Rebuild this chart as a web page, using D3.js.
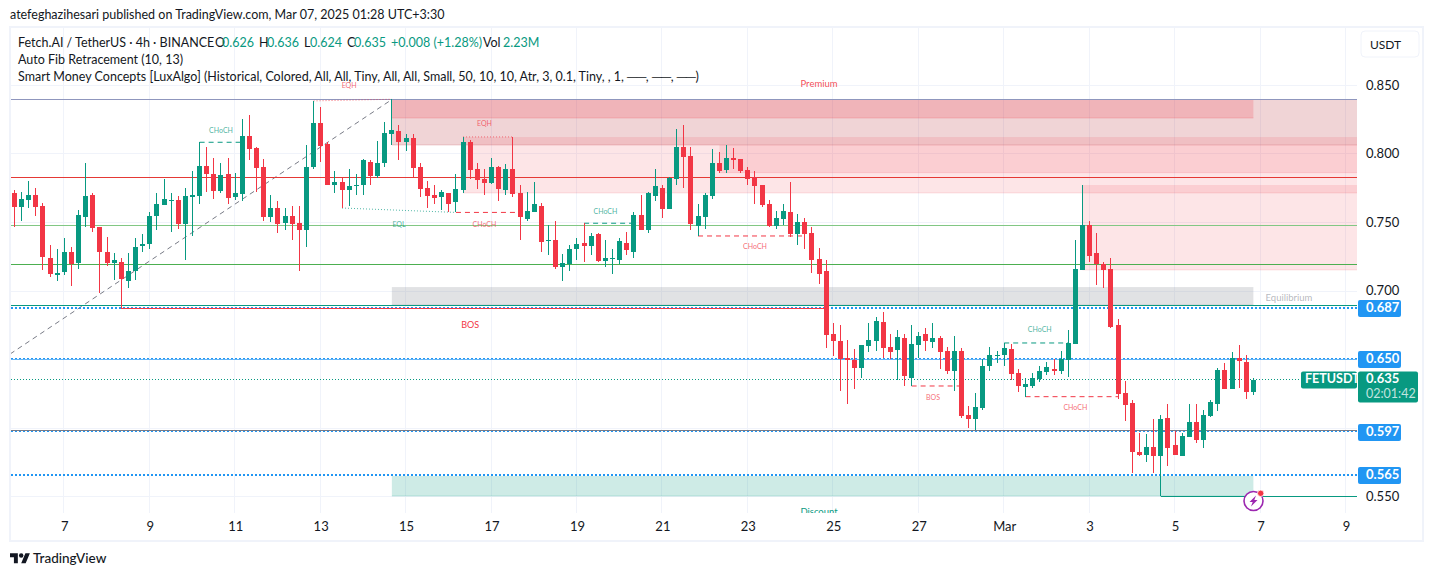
<!DOCTYPE html>
<html><head><meta charset="utf-8">
<script src="https://cdn.jsdelivr.net/npm/d3@7/dist/d3.min.js"></script>
<style>
html,body{margin:0;padding:0;background:#fff;overflow:hidden}
svg{display:block}
text{font-family:Lato,"Noto Sans",sans-serif;fill:#131722}
</style></head><body><svg id="c" width="1433" height="576"></svg>
<script>
const opens=[.7712,.7610,.7661,.7697,.7617,.7238,.7114,.7136,.7282,.7201,.7537,.7697,.7464,.7282,.7201,.7208,.7070,.7143,.7325,.7340,.7544,.7624,.7654,.7661,.7486,.7683,.7690,.7909,.7851,.7726,.7851,.7683,.7705,.8128,.8040,.7902,.7537,.7602,.7493,.7544,.7493,.7442,.7902,.8223,.8070,.7771,.7793,.7734,.7763,.7771,.7939,.7836,.7931,.8143,.8165,.8085,.8114,.7902,.7749,.7697,.7683,.7712,.7647,.7734,.8085,.7888,.7814,.7785,.7902,.7734,.7888,.7712,.7522,.7573,.7617,.7362,.7369,.7172,.7191,.7303,.7347,.7325,.7413,.7216,.7231,.7223,.7347,.7282,.7551,.7442,.7690,.7749,.7595,.7814,.8048,.7982,.7471,.7537,.7691,.7931,.7880,.7967,.7960,.7880,.7829,.7770,.7632,.7471,.7522,.7573,.7413,.7500,.7420,.7230,.7143,.6683,.6632,.6507,.6493,.6434,.6595,.6632,.6770,.6588,.6566,.6654,.6361,.6602,.6683,.6624,.6654,.6558,.6413,.6558,.6091,.6062,.6143,.6449,.6522,.6529,.6573,.6398,.6296,.6303,.6354,.6405,.6427,.6413,.6493,.6610,.7150,.7478,.7274,.7194,.7157,.6748,.6252,.6179,.5821,.5799,.5858,.5792,.6070,.5873,.5792,.5931,.6040,.5909,.6084,.6172,.6420,.6281,.6507,.6478,.626];
const highs=[.7734,.7719,.7800,.7749,.7639,.7333,.7303,.7384,.7318,.7588,.7931,.7712,.7464,.7391,.7274,.7238,.7274,.7384,.7413,.7573,.7712,.7814,.7712,.7690,.7749,.7873,.8082,.8048,.7968,.7931,.7968,.7858,.8252,.8281,.8048,.7960,.7697,.7654,.7602,.7617,.7617,.8062,.8384,.8340,.8085,.7873,.7822,.7888,.7851,.7960,.7953,.8092,.8230,.8396,.8208,.8143,.8143,.7931,.7800,.7771,.7734,.7712,.7851,.8121,.8099,.7931,.7888,.7968,.7909,.7924,.8121,.7771,.7719,.7793,.7639,.7479,.7508,.7267,.7333,.7384,.7491,.7420,.7420,.7369,.7303,.7384,.7427,.7573,.7697,.7719,.7888,.7771,.7829,.8179,.8208,.8048,.7632,.7712,.8033,.8011,.8062,.8041,.7960,.7902,.7873,.7770,.7661,.7581,.7632,.7792,.7559,.7530,.7464,.7310,.7223,.6763,.6748,.6639,.6573,.6602,.6763,.6807,.6843,.6683,.6712,.6683,.6748,.6697,.6727,.6763,.6668,.6588,.6668,.6580,.6157,.6252,.6500,.6588,.6558,.6617,.6610,.6427,.6361,.6398,.6449,.6478,.6500,.6558,.6712,.7369,.7770,.7507,.7420,.7208,.7237,.6792,.6340,.6201,.5960,.5953,.6062,.6091,.6172,.5975,.5960,.6172,.6172,.6128,.6201,.6434,.6471,.6551,.6602,.6529,.636];
const lows=[.7464,.7508,.7602,.7544,.7150,.7099,.7070,.7114,.7033,.7157,.7464,.7427,.6982,.7180,.7077,.6868,.7019,.7077,.7282,.7303,.7442,.7624,.7427,.7449,.7223,.7398,.7632,.7719,.7668,.7712,.7632,.7661,.7654,.7953,.7719,.7508,.7500,.7420,.7442,.7369,.7143,.7318,.7888,.7939,.7771,.7712,.7602,.7617,.7697,.7697,.7771,.7822,.7902,.8062,.7953,.8019,.7827,.7683,.7602,.7632,.7588,.7573,.7570,.7712,.7814,.7741,.7697,.7778,.7654,.7697,.7683,.7369,.7508,.7573,.7282,.7260,.7157,.7070,.7143,.7223,.7208,.7260,.7208,.7172,.7121,.7194,.7260,.7238,.7442,.7420,.7654,.7530,.7595,.7770,.7749,.7442,.7398,.7449,.7668,.7858,.7858,.7887,.7858,.7770,.7632,.7610,.7464,.7449,.7478,.7391,.7332,.7303,.7128,.7048,.6580,.6522,.6267,.6172,.6281,.6361,.6551,.6558,.6507,.6500,.6347,.6303,.6303,.6507,.6558,.6580,.6427,.6391,.6267,.6070,.5996,.5982,.6128,.6413,.6471,.6449,.6347,.6259,.6225,.6289,.6332,.6383,.6383,.6391,.6369,.6610,.7150,.7208,.7040,.7018,.6726,.6209,.6048,.5668,.5792,.5748,.5668,.5500,.5719,.5799,.5792,.5931,.5887,.5851,.6077,.6120,.6281,.6281,.6288,.6208,.624];
const closes=[.7609,.7668,.7697,.7610,.7245,.7121,.7128,.7282,.7194,.7551,.7690,.7457,.7282,.7201,.7223,.7084,.7143,.7318,.7340,.7544,.7632,.7668,.7661,.7486,.7690,.7697,.7909,.7851,.7726,.7843,.7675,.7712,.8128,.8033,.7895,.7537,.7602,.7486,.7544,.7486,.7442,.7902,.8223,.8055,.7771,.7793,.7734,.7763,.7771,.7953,.7836,.7931,.8150,.8172,.8085,.8114,.7895,.7741,.7690,.7675,.7719,.7632,.7741,.8085,.7880,.7807,.7785,.7902,.7741,.7888,.7705,.7537,.7580,.7632,.7354,.7369,.7172,.7201,.7303,.7340,.7325,.7398,.7213,.7238,.7238,.7362,.7296,.7551,.7442,.7712,.7763,.7595,.7822,.8048,.7975,.7486,.7544,.7698,.7931,.7873,.7967,.7953,.7873,.7814,.7763,.7625,.7471,.7530,.7581,.7413,.7500,.7413,.7223,.7121,.6675,.6632,.6500,.6493,.6434,.6602,.6639,.6778,.6580,.6551,.6661,.6376,.6610,.6668,.6631,.6654,.6551,.6413,.6558,.6084,.6062,.6150,.6449,.6529,.6529,.6580,.6391,.6303,.6318,.6361,.6413,.6442,.6413,.6500,.6617,.7157,.7478,.7252,.7194,.7150,.6734,.6245,.6164,.5821,.5799,.5858,.5792,.6062,.5851,.5799,.5938,.6040,.5909,.6091,.6186,.6420,.6281,.6507,.6485,.6259,.635];

const priceTicks=[.85,.8,.75,.7,.55];
const dateTicks=[7,19,31,43,55,67,79,91,103,115,127,139,151,163,175,187];
const dateLabels=["7","9","11","13","15","17","19","21","23","25","27","Mar","3","5","7","9"];
const gridPrices=[.85,.8,.75,.7,.65,.6,.55];
const badgeLevels=[.687,.65,.597,.565];
const dottedLevels=[.6872,.6500,.5974,.5653];
const fibPrices=[.8394,.7826,.7475,.7190,.6894,.6496,.5978];
const fibColors=["#8f96bd","#e53935","#81c784","#4caf50","#089981","#64b5f6","#787b86"];
const zoneFrom=[53,53,63,99,150,53,53];
const zoneTo=[null,174,null,null,null,174,174];
const zoneTop=[.8394,.8394,.8120,.8062,.7770,.7025,.5646];
const zoneBottom=[.8062,.8259,.7712,.7860,.7150,.6894,.55];
const zoneFill=["rgba(178,40,51,.2)","rgba(242,54,69,.2)","rgba(242,54,69,.13)","rgba(242,54,69,.13)","rgba(242,54,69,.13)","rgba(135,139,148,.25)","rgba(8,153,129,.2)"];
const structText=["CHoCH","EQH","EQL","EQH","CHoCH","CHoCH","CHoCH","BOS","CHoCH","CHoCH"];
const structFrom=[26,42,46,63,62,80,96,126,139,142];
const structTo=[32,53,62,70,71,87,111,133,148,155];
const structP0=[.8082,.8384,.7602,.8121,.7570,.7491,.7398,.6303,.6617,.6225];
const structP1=[.8082,.8396,.7570,.8121,.7570,.7491,.7398,.6303,.6617,.6225];
const structLabelBar=[29,47,54,66,66,83,104,129,144,149];
const structLabelP=[.8164,.8493,.7478,.8215,.7478,.7573,.7318,.6215,.6712,.6142];
const structUp=[1,0,1,0,0,1,0,0,1,0];

const up="#089981",down="#f23645";
const svg=d3.select("#c");
const x=d3.scaleLinear().domain([0,187]).range([14.5,14.5+187*7.12]);
const y=d3.scaleLinear().domain([.85,.55]).range([85,496]);
const crisp=p=>Math.floor(y(p))+.5;
const L=11,R=1357,T=28,B=513;

svg.append("rect").attr("x",10).attr("y",27).attr("width",1413).attr("height",514).attr("fill","#fff").attr("stroke","#f0f3fa").attr("stroke-width",2);

const defs=svg.append("defs");
defs.append("clipPath").attr("id","pane").append("rect").attr("x",L).attr("y",T).attr("width",R-L).attr("height",B-T);
const pane=svg.append("g").attr("clip-path","url(#pane)");

pane.selectAll(".gv").data(dateTicks).join("rect").attr("x",d=>Math.round(x(d))-1).attr("y",T).attr("width",1).attr("height",B-T).attr("fill","#f0f3fa");
pane.selectAll(".gh").data(gridPrices).join("rect").attr("x",L).attr("y",d=>Math.round(y(d))).attr("width",R-L).attr("height",1).attr("fill","#f0f3fa");

zoneFrom.forEach((f,i)=>{
  const x0=x(f),x1=zoneTo[i]==null?R:x(zoneTo[i]);
  pane.append("rect").attr("x",x0).attr("y",y(zoneTop[i])).attr("width",x1-x0).attr("height",y(zoneBottom[i])-y(zoneTop[i]))
    .attr("fill",zoneFill[i]);
  pane.append("line").attr("x1",x0).attr("x2",x1).attr("y1",y(zoneBottom[i])).attr("y2",y(zoneBottom[i])).attr("stroke",zoneFill[i]).attr("stroke-width",1);
});

pane.append("line").attr("x1",x(-0.6)).attr("y1",y(.6537)).attr("x2",x(53)).attr("y2",y(.8394))
  .attr("stroke","#787b86").attr("stroke-width",1).attr("stroke-dasharray","5,4");

pane.append("line").attr("x1",L).attr("x2",R).attr("y1",crisp(closes[174])).attr("y2",crisp(closes[174]))
  .attr("stroke",up).attr("stroke-width",1).attr("stroke-dasharray","1,2");
dottedLevels.forEach(p=>{
  const v=Math.round(y(p));
  pane.append("line").attr("x1",L).attr("x2",R).attr("y1",v).attr("y2",v).attr("stroke","#2196f3").attr("stroke-width",2).attr("stroke-dasharray","2,2");
});
fibPrices.forEach((p,i)=>{
  pane.append("line").attr("x1",L).attr("x2",R).attr("y1",crisp(p)).attr("y2",crisp(p)).attr("stroke",fibColors[i]).attr("stroke-width",1);
});
pane.append("line").attr("x1",x(15)).attr("x2",x(114)).attr("y1",crisp(lows[15])).attr("y2",crisp(lows[15])).attr("stroke",down).attr("stroke-width",1);
pane.append("line").attr("x1",x(161)).attr("x2",R).attr("y1",crisp(lows[161])).attr("y2",crisp(lows[161])).attr("stroke",up).attr("stroke-width",1);

structText.forEach((t,i)=>{
  const c=structUp[i]?up:down, eq=t.startsWith("EQ");
  pane.append("line").attr("x1",x(structFrom[i])).attr("x2",x(structTo[i])).attr("y1",y(structP0[i])).attr("y2",y(structP1[i]))
    .attr("stroke",c).attr("stroke-opacity",eq?.7:1).attr("stroke-width",1).attr("stroke-dasharray",eq?"1,2":"5,4");
  pane.append("text").attr("x",x(structLabelBar[i])).attr("y",y(structLabelP[i])).attr("text-anchor","middle").attr("dominant-baseline","middle")
    .attr("font-size",7).style("fill",c).attr("fill-opacity",.75).text(t);
});
[["BOS",64,.6745,down,1,9],["Premium",113,.8500,down,.9,9.5],["Equilibrium",179,.6940,"#787b86",.55,9.5],["Discount",113,.5378,up,1,9.5]].forEach(a=>{
  pane.append("text").attr("x",x(a[1])).attr("y",y(a[2])).attr("text-anchor","middle").attr("dominant-baseline","middle")
    .attr("font-size",a[5]).style("fill",a[3]).attr("fill-opacity",a[4]).text(a[0]);
});

const idx=d3.range(opens.length);
const left=i=>Math.round(x(i)-2.5);
const col=i=>closes[i]>=opens[i]?up:down;
pane.selectAll(".w").data(idx).join("rect").attr("x",i=>left(i)+2).attr("width",1)
  .attr("y",i=>Math.round(y(highs[i]))).attr("height",i=>Math.round(y(lows[i]))-Math.round(y(highs[i])))
  .attr("fill",col);
pane.selectAll(".b").data(idx).join("rect").attr("x",left).attr("width",5)
  .attr("y",i=>Math.round(y(Math.max(opens[i],closes[i]))))
  .attr("height",i=>Math.max(1,Math.round(y(Math.min(opens[i],closes[i])))-Math.round(y(Math.max(opens[i],closes[i])))))
  .attr("fill",col);

const ic=svg.append("g").attr("transform",`translate(1253.5,501)`);
ic.append("circle").attr("r",9.5).attr("fill","#fff").attr("stroke","#9c27b0").attr("stroke-width",1.6);
ic.append("path").attr("d","M2.5,-5.5 L-4,1 L-0.8,1 L-2.5,5.5 L4,-1 L0.8,-1 Z").attr("fill","#9c27b0");
ic.append("circle").attr("cx",7.2).attr("cy",-7.7).attr("r",3.2).attr("fill","#f23645").attr("stroke","#fff").attr("stroke-width",.8);

const yAxis=d3.axisRight(y).tickValues(priceTicks).tickFormat(d3.format(".3f")).tickSize(0).tickPadding(0);
const ga=svg.append("g").attr("transform","translate(1366,0)").call(yAxis);
ga.select(".domain").remove();
ga.selectAll("text").attr("font-size",13).style("font-family",'Lato').style("fill","#131722").attr("dy",".32em").attr("x",0);

const xAxis=d3.axisBottom(x).tickValues(dateTicks).tickFormat((d,i)=>dateLabels[i]).tickSize(0).tickPadding(0);
const gx=svg.append("g").attr("transform","translate(0,522)").call(xAxis);
gx.select(".domain").remove();
gx.selectAll("text").attr("font-size",13).style("font-family",'Lato').style("fill","#131722").attr("dy",".71em").attr("y",0);

badgeLevels.forEach((p,i)=>{
  const cy=Math.round(y(p))+.5;
  svg.append("rect").attr("x",1358).attr("y",cy-8.5).attr("width",43).attr("height",17).attr("rx",2).attr("fill","#2196f3");
  svg.append("text").attr("x",1366).attr("y",cy+.5).attr("dominant-baseline","middle").attr("font-size",13).attr("font-weight",700).style("fill","#fff").text(d3.format(".3f")(p));
});
const ly=Math.round(y(closes[174]));
svg.append("rect").attr("x",1301).attr("y",ly-8.5).attr("width",56).attr("height",17).attr("rx",2).attr("fill",up);
svg.append("text").attr("x",1305).attr("y",ly).attr("dominant-baseline","middle").attr("font-size",12.5).attr("font-weight",700).style("fill","#fff").text("FETUSDT");
svg.append("rect").attr("x",1358).attr("y",ly-8.5).attr("width",60).attr("height",31).attr("rx",2).attr("fill",up);
svg.append("text").attr("x",1366).attr("y",ly).attr("dominant-baseline","middle").attr("font-size",13).attr("font-weight",700).style("fill","#fff").text(d3.format(".3f")(closes[174]));
svg.append("text").attr("x",1366).attr("y",ly+15).attr("dominant-baseline","middle").attr("font-size",12.5).style("fill","#fff").attr("fill-opacity",.75).text("02:01:42");

svg.append("rect").attr("x",1361).attr("y",31).attr("width",58).attr("height",26).attr("rx",4).attr("fill","#fff").attr("stroke","#f0f3fa").attr("stroke-width",1);
svg.append("text").attr("x",1370).attr("y",49).attr("font-size",12).text("USDT");

svg.append("text").attr("x",10).attr("y",19).attr("font-size",12.5).text("atefeghazihesari published on TradingView.com, Mar 07, 2025 01:28 UTC+3:30");
const legend=[["Fetch.AI / TetherUS · 4h · BINANCE",18,0],["O",215,0],["0.626",222,1],["H",259,0],["0.636",267,1],["L",304,0],["0.624",310,1],["C",347,0],["0.635",354,1],["+0.008 (+1.28%)",391,1],["Vol",483,0],["2.23M",503,1]];
legend.forEach(a=>svg.append("text").attr("x",a[1]).attr("y",47).attr("font-size",12.5).style("fill",a[2]?up:"#131722").text(a[0]));
svg.append("text").attr("x",18).attr("y",64).attr("font-size",12.5).text("Auto Fib Retracement (10, 13)");
svg.append("text").attr("x",18).attr("y",81).attr("font-size",12.5).text("Smart Money Concepts [LuxAlgo] (Historical, Colored, All, All, Tiny, All, All, Small, 50, 10, 10, Atr, 3, 0.1, Tiny, , 1, ──, ──, ──)");

const lg=svg.append("g").attr("transform","translate(10,551) scale(.56)").attr("fill","#131722");
lg.append("path").attr("d","M14 22H7V11H0V4h14v18zM28 22h-8l7.5-18h8L28 22z");
lg.append("circle").attr("cx",20).attr("cy",8).attr("r",4);
svg.append("text").attr("x",33).attr("y",563).attr("font-size",13.5).attr("font-weight",500).text("TradingView");
</script></body></html>
